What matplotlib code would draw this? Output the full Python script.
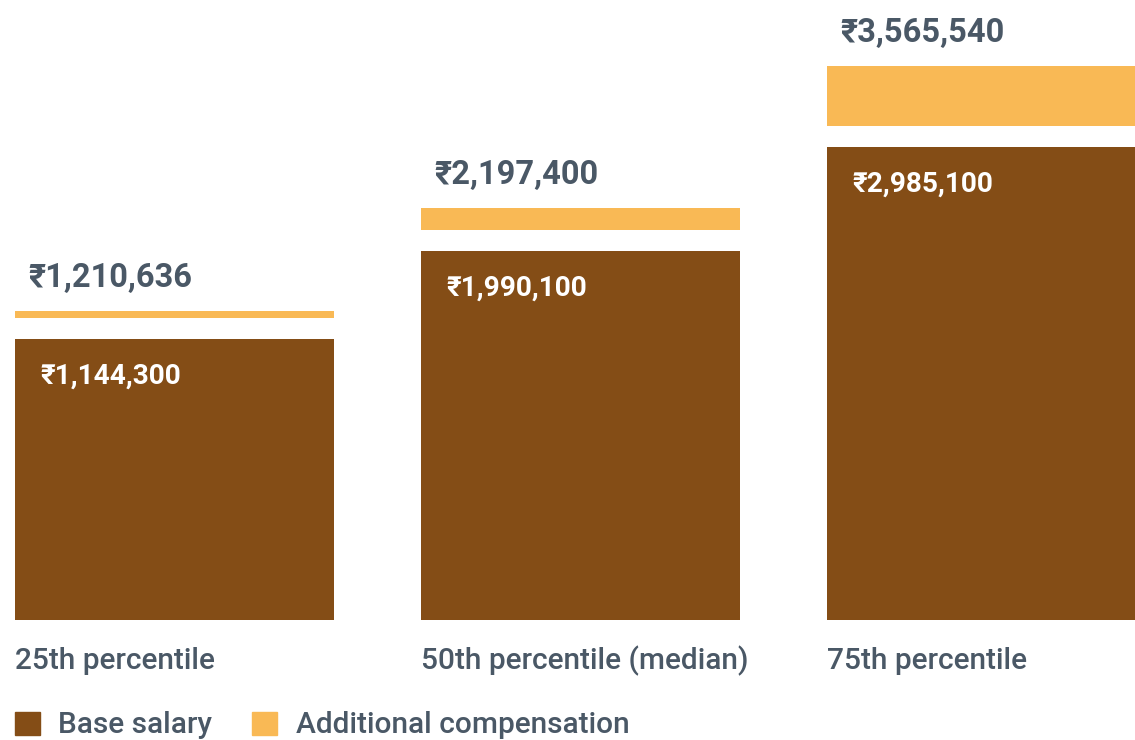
import numpy as np
import matplotlib
matplotlib.use('Agg')
import matplotlib.pyplot as plt
from matplotlib.patches import Rectangle

plt.rcParams['font.family'] = ['Roboto', 'DejaVu Sans']

# ===== data =====
categories = ["25th percentile", "50th percentile (median)", "75th percentile"]
base_salary = [1144300, 1990100, 2985100]
total_pay = [1210636, 2197400, 3565540]
additional = [t - b for t, b in zip(total_pay, base_salary)]

BROWN = "#844d16"
GOLD = "#f9b955"
TEXT = "#4a5866"

fig = plt.figure(figsize=(11.35, 7.4), dpi=100)
ax = fig.add_axes([0, 1 - 620 / 740, 1, 620 / 740])

# y axis: ~104 px per million, bars start from a floor below zero
px_per_unit = 104 / 1e6
floor = -1.56e6
ax.set_ylim(floor, floor + 620 / px_per_unit)
ax.set_xlim(-174.5 / 406, (1135 - 174.5) / 406)
gap = 21 / px_per_unit
width = 319 / 406

x = np.arange(len(categories))
base = np.array(base_salary)
add = np.array(additional)

ax.bar(x, base - floor, bottom=floor, width=width, color=BROWN)
ax.bar(x, add, bottom=base + gap, width=width, color=GOLD)
ax.axis("off")

for i in range(len(categories)):
    left = x[i] - width / 2
    # total above the gold bar
    ax.annotate(f"₹{total_pay[i]:,}", (left, base[i] + gap + add[i]),
                xytext=(13, 33), textcoords="offset pixels",
                ha="left", va="center", fontsize=23.5, fontweight="bold", color=TEXT)
    # base salary inside the brown bar
    ax.annotate(f"₹{base_salary[i]:,}", (left, base[i]),
                xytext=(25, -37), textcoords="offset pixels",
                ha="left", va="center", fontsize=20.2, fontweight="bold", color="white")
    # category under the bar
    ax.annotate(categories[i], (left, floor),
                xytext=(0, -41), textcoords="offset pixels",
                ha="left", va="center", fontsize=21.5, fontweight="medium", color=TEXT,
                annotation_clip=False)

# legend along the bottom
fig.patches.append(Rectangle((15 / 1135, 1 - 735 / 740), 25 / 1135, 23 / 740,
                             color=BROWN, transform=fig.transFigure, figure=fig))
fig.text(58 / 1135, 1 - 725 / 740, "Base salary", ha="left", va="center",
         fontsize=21.5, fontweight="medium", color=TEXT)
fig.patches.append(Rectangle((252 / 1135, 1 - 735 / 740), 25 / 1135, 23 / 740,
                             color=GOLD, transform=fig.transFigure, figure=fig))
fig.text(296 / 1135, 1 - 725 / 740, "Additional compensation", ha="left", va="center",
         fontsize=21.5, fontweight="medium", color=TEXT)

fig.savefig("out.png", dpi=100)
